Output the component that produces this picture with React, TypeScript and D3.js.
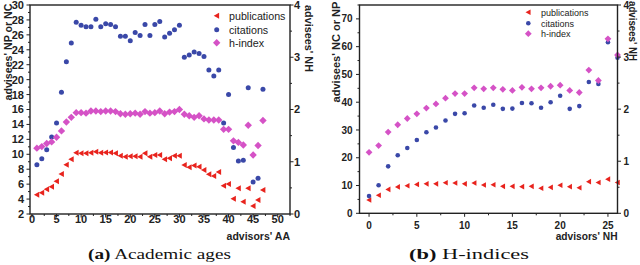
import React from 'react';
import * as d3 from 'd3';

// ---------- data: panel (a) ----------
const aaX = [1, 2, 3, 4, 5, 6, 7, 8, 9, 10, 11, 12, 13, 14, 15, 16, 17, 18, 19, 20, 21, 22, 23, 24, 25, 26, 27, 28, 29, 30, 31, 32, 33, 34, 35, 36, 37, 38, 39, 40, 41, 42, 43, 44, 45, 46, 47];
const aaPub = [4.59, 4.86, 5.3, 5.66, 6.38, 7.36, 8.6, 9.33, 10.2, 10.13, 10.13, 10.2, 10.35, 10.2, 10.25, 10.25, 10.13, 9.8, 9.68, 9.73, 9.73, 9.68, 10.13, 9.68, 9.9, 9.9, 9.33, 9.46, 9.8, 9.8, 8.56, 8.25, 8.5, 8.34, 7.9, 7.32, 7.09, 7.63, 5.8, 6.02, 4.05, 5.44, 3.65, 5.44, 3.07, 3.88, 5.2];
const aaCit = [8.6, 9.4, 10.6, 12.3, 14.2, 18.3, 22.4, 24.9, 27.7, 27.3, 27.1, 27.1, 28.1, 27.1, 27.5, 27.4, 27.1, 25.8, 25.8, 25.2, 26.3, 25.9, 27.4, 25.9, 27.4, 27.8, 25.7, 26.2, 26.7, 27.3, 23.0, 23.3, 23.7, 23.5, 23.1, 21.3, 20.5, 21.3, 14.2, 18.0, 10.9, 9.1, 9.2, 18.9, 6.3, 6.8, 18.7];
const aaH = [1.26, 1.29, 1.35, 1.38, 1.47, 1.59, 1.76, 1.85, 1.94, 1.94, 1.93, 1.97, 1.97, 1.96, 1.97, 1.97, 1.96, 1.92, 1.91, 1.92, 1.93, 1.91, 1.96, 1.93, 1.94, 1.97, 1.92, 1.95, 1.96, 2.0, 1.91, 1.88, 1.85, 1.88, 1.82, 1.8, 1.8, 1.8, 1.62, 1.62, 1.4, 1.37, 1.32, 1.7, 1.13, 1.31, 1.79];

// ---------- data: panel (b) ----------
const nhX = [0, 1, 2, 3, 4, 5, 6, 7, 8, 9, 10, 11, 12, 13, 14, 15, 16, 17, 18, 19, 20, 21, 22, 23, 24, 25, 26];
const nhPub = [4.8, 6.5, 8.6, 9.5, 9.9, 10.4, 10.6, 10.6, 11.0, 10.9, 10.6, 10.9, 10.2, 10.3, 9.7, 9.7, 9.6, 9.7, 9.0, 9.35, 10.1, 9.6, 9.2, 11.4, 11.1, 12.3, 11.1];
const nhCit = [6.2, 10.1, 16.9, 20.9, 23.5, 26.4, 29.2, 30.9, 33.4, 35.8, 36.0, 38.8, 38.0, 39.1, 37.6, 37.7, 39.7, 39.6, 38.0, 40.0, 42.3, 37.6, 38.6, 47.3, 46.6, 61.6, 56.0];
const nhH = [1.17, 1.3, 1.56, 1.7, 1.82, 1.91, 2.02, 2.1, 2.21, 2.3, 2.3, 2.41, 2.39, 2.41, 2.38, 2.36, 2.42, 2.39, 2.41, 2.44, 2.46, 2.36, 2.32, 2.75, 2.55, 3.35, 3.04];

// ---------- tick labels ----------
const aaXTicks = [0, 5, 10, 15, 20, 25, 30, 35, 40, 45, 50];
const aaYLTicks = [2, 4, 6, 8, 10, 12, 14, 16, 18, 20, 22, 24, 26, 28, 30];
const nhXTicks = [0, 5, 10, 15, 20, 25];
const nhYLTicks = [0, 10, 20, 30, 40, 50, 60, 70];
const nhTicksR = [0, 1, 2, 3, 4];
const seriesNames = ['publications', 'citations', 'h-index'];

const RED = '#e8231d';
const BLUE = '#3a48a8';
const MAG = '#d552c6';
const AX = '#222';
const SANS = '"Liberation Sans", Arial, sans-serif';
const SERIF = '"Liberation Serif", "DejaVu Serif", serif';

const triPath = (s: number) => `M${-s},0L${s * 0.8},${-s}L${s * 0.8},${s}Z`;
const diaPath = (s: number) => `M0,${-s}L${s},0L0,${s}L${-s},0Z`;

function minorTicks(lo: number, hi: number, step: number) {
  const out: number[] = [];
  for (let v = Math.ceil(lo / step) * step; v <= hi + 1e-9; v += step) out.push(+v.toFixed(4));
  return out;
}

type PanelProps = {
  xs: number[]; pub: number[]; cit: number[]; h: number[];
  xDom: [number, number]; xRange: [number, number];
  yLDom: [number, number]; yRDom: [number, number]; yRange: [number, number];
  xTicks: number[]; xMinorStep: number;
  yLTicks: number[]; yLMinorStep: number;
  yRTicks: number[]; yRMinorStep: number;
  fs: number; xLabelY: number; yLLabelGap: number; yRLabelGap: number;
  xTitle: string; yLTitle: string; yRTitle: string;
  yLTitleX: number; yLTitleY: number; yLTitleLen: number;
  yRTitleX: number; yRTitleY: number; yRTitleLen: number; titleFs: number;
  legX: number; legYs: number[]; legFs: number; legTextX: number;
  r: number; ds: number; ts: number;
};

function Panel(p: PanelProps) {
  const x = d3.scaleLinear().domain(p.xDom).range(p.xRange);
  const yL = d3.scaleLinear().domain(p.yLDom).range(p.yRange);
  const yR = d3.scaleLinear().domain(p.yRDom).range(p.yRange);
  const [x0, x1] = p.xRange;
  const [yb, yt] = p.yRange;
  const xMin = minorTicks(p.xDom[0], p.xDom[1], p.xMinorStep);
  const yLMin = minorTicks(p.yLDom[0], p.yLDom[1], p.yLMinorStep);
  const yRMin = minorTicks(p.yRDom[0], p.yRDom[1], p.yRMinorStep);
  return (
    <g>
      {p.xs.map((v, i) => (
        <path key={'p' + i} d={triPath(p.ts)} transform={`translate(${x(v)},${yL(p.pub[i])})`} fill={RED} />
      ))}
      {p.xs.map((v, i) => (
        <circle key={'c' + i} cx={x(v)} cy={yL(p.cit[i])} r={p.r} fill={BLUE} />
      ))}
      {p.xs.map((v, i) => (
        <path key={'h' + i} d={diaPath(p.ds)} transform={`translate(${x(v)},${yR(p.h[i])})`} fill={MAG} />
      ))}
      <rect x={x0} y={yt} width={x1 - x0} height={yb - yt} fill="none" stroke={AX} strokeWidth={1.4} />
      {xMin.map((v) => (
        <line key={'xm' + v} x1={x(v)} x2={x(v)} y1={yb} y2={yb + (p.xTicks.includes(v) ? 3.5 : 2)} stroke={AX} strokeWidth={1} />
      ))}
      {p.xTicks.map((v) => (
        <text key={'xl' + v} x={x(v)} y={p.xLabelY} textAnchor="middle" fontFamily={SANS} fontWeight="bold" fontSize={p.fs} fill={AX}>{v}</text>
      ))}
      {yLMin.map((v) => (
        <line key={'ylm' + v} x1={x0} x2={x0 - (p.yLTicks.includes(v) ? 3.5 : 2)} y1={yL(v)} y2={yL(v)} stroke={AX} strokeWidth={1} />
      ))}
      {p.yLTicks.map((v) => (
        <text key={'yll' + v} x={x0 - p.yLLabelGap} y={yL(v)} dy="0.36em" textAnchor="end" fontFamily={SANS} fontWeight="bold" fontSize={p.fs} fill={AX}>{v}</text>
      ))}
      {yRMin.map((v) => (
        <line key={'yrm' + v} x1={x1} x2={x1 + (p.yRTicks.includes(v) ? 3.5 : 2)} y1={yR(v)} y2={yR(v)} stroke={AX} strokeWidth={1} />
      ))}
      {p.yRTicks.map((v) => (
        <text key={'yrl' + v} x={x1 + p.yRLabelGap} y={yR(v)} dy="0.36em" textAnchor="start" fontFamily={SANS} fontWeight="bold" fontSize={p.fs} fill={AX}>{v}</text>
      ))}
      <text x={x1} y={240} textAnchor="end" fontFamily={SANS} fontWeight="bold" fontSize={p.titleFs} fill={AX}>{p.xTitle}</text>
      <text transform={`translate(${p.yLTitleX},${p.yLTitleY}) rotate(-90)`} x={-p.yLTitleLen / 2} textLength={p.yLTitleLen} lengthAdjust="spacingAndGlyphs" fontFamily={SANS} fontWeight="bold" fontSize={p.titleFs} fill={AX}>{p.yLTitle}</text>
      <text transform={`translate(${p.yRTitleX},${p.yRTitleY}) rotate(90)`} x={-p.yRTitleLen / 2} textLength={p.yRTitleLen} lengthAdjust="spacingAndGlyphs" fontFamily={SANS} fontWeight="bold" fontSize={p.titleFs} fill={AX}>{p.yRTitle}</text>
      <path d={triPath(p.ts)} transform={`translate(${p.legX},${p.legYs[0]})`} fill={RED} />
      <circle cx={p.legX} cy={p.legYs[1]} r={p.r} fill={BLUE} />
      <path d={diaPath(p.ds)} transform={`translate(${p.legX},${p.legYs[2]})`} fill={MAG} />
      {seriesNames.map((n, i) => (
        <text key={n} x={p.legTextX} y={p.legYs[i]} dy="0.36em" fontFamily={SANS} fontSize={p.legFs} fill={AX}>{n}</text>
      ))}
    </g>
  );
}

export default function App() {
  return (
    <svg width={640} height={265} viewBox="0 0 640 265" style={{ position: 'absolute', left: 0, top: 0, background: '#fff' }}>
      <rect width={640} height={265} fill="#fff" />
      <Panel
        xs={aaX} pub={aaPub} cit={aaCit} h={aaH}
        xDom={[-0.4, 52.5]} xRange={[30, 290]}
        yLDom={[2, 30]} yRDom={[0, 4]} yRange={[214, 5]}
        xTicks={aaXTicks} xMinorStep={2.5}
        yLTicks={aaYLTicks} yLMinorStep={1}
        yRTicks={nhTicksR} yRMinorStep={0.5}
        fs={11} xLabelY={223.3} yLLabelGap={6} yRLabelGap={4}
        xTitle="advisors' AA" yLTitle="advisees' NP or NC" yRTitle="advisees' NH"
        yLTitleX={12} yLTitleY={52} yLTitleLen={97}
        yRTitleX={305} yRTitleY={38.5} yRTitleLen={67} titleFs={10.5}
        legX={216.7} legYs={[15.7, 29.7, 42.7]} legFs={10.7} legTextX={229}
        r={2.5} ds={3.7} ts={3}
      />
      <Panel
        xs={nhX} pub={nhPub} cit={nhCit} h={nhH}
        xDom={[-1, 26]} xRange={[359.5, 617.5]}
        yLDom={[0, 75]} yRDom={[0, 4]} yRange={[213.3, 5]}
        xTicks={nhXTicks} xMinorStep={2.5}
        yLTicks={nhYLTicks} yLMinorStep={5}
        yRTicks={nhTicksR} yRMinorStep={0.5}
        fs={10} xLabelY={229} yLLabelGap={7} yRLabelGap={6}
        xTitle="advisors' NH" yLTitle="advisees' NC or NP" yRTitle="advisees' NH"
        yLTitleX={340} yLTitleY={52} yLTitleLen={101}
        yRTitleX={629} yRTitleY={31} yRTitleLen={60} titleFs={10.2}
        legX={528.3} legYs={[12.3, 23.3, 33.7]} legFs={9} legTextX={541}
        r={2.3} ds={3.4} ts={2.8}
      />
      <text x={88} y={259} textLength={143} lengthAdjust="spacingAndGlyphs" fontFamily={SERIF} fontSize={14.5} fill="#111">
        <tspan fontWeight="bold">(a)</tspan> Academic ages
      </text>
      <text x={409} y={259} textLength={120} lengthAdjust="spacingAndGlyphs" fontFamily={SERIF} fontSize={14.5} fill="#111">
        <tspan fontWeight="bold">(b)</tspan> H-indices
      </text>
    </svg>
  );
}
